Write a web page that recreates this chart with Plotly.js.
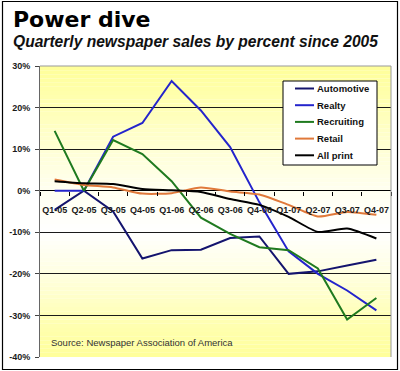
<!DOCTYPE html>
<html>
<head>
<meta charset="utf-8">
<script src="https://cdn.plot.ly/plotly-3.0.1.min.js"></script>
<style>
html,body{margin:0;padding:0;background:#fff;}
#chart{width:400px;height:371px;}
</style>
</head>
<body>
<div id="chart"></div>
<script>
var quarters = ["Q1-05","Q2-05","Q3-05","Q4-05","Q1-06","Q2-06","Q3-06","Q4-06","Q1-07","Q2-07","Q3-07","Q4-07"];
var automotive = [-4.6, 0, -5, -16.3, -14.3, -14.2, -11.4, -11, -20, -19.4, -18, -16.6];
var realty     = [0, 0, 13, 16.3, 26.4, 19.3, 10.5, -2.8, -14.6, -20, -24, -28.8];
var recruiting = [14.4, 0, 12.2, 8.8, 2.3, -6.5, -10.4, -13.6, -14.3, -18.7, -31, -25.8];
var retail     = [2.7, 1.4, 0.8, -0.7, -0.6, 0.8, -0.2, -0.9, -3.4, -6.2, -5.1, -5.8];
var allPrint   = [2.3, 1.8, 1.6, 0.4, 0.1, -0.3, -2.0, -3.4, -6.3, -9.9, -9.1, -11.5];
var yTicks = [-40, -30, -20, -10, 0, 10, 20, 30];

var seriesNames = ["Automotive","Realty","Recruiting","Retail","All print"];
var seriesData = [automotive, realty, recruiting, retail, allPrint];
var seriesColors = ["#14146e","#2424cc","#1f7a1f","#e0793a","#000000"];
var seriesShape = ["linear","linear","linear","spline","spline"];

var traces = seriesNames.map(function(n, i){
  return {
    type: "scatter", mode: "lines", name: n,
    x: quarters, y: seriesData[i],
    line: {color: seriesColors[i], width: 2, shape: seriesShape[i], smoothing: 0.6},
    hoverinfo: "skip", showlegend: false
  };
});

// pixel helpers (plot area: x 40..391, y 66..357)
var L = 40, R = 391, T = 66, B = 357;
function px(x){ return (x - L) / (R - L); }
function py(y){ return (B - y) / (B - T); }

// background gradient stops
var stops = [[30,[255,255,153]],[20,[255,255,181]],[10,[255,255,213]],[0,[255,255,240]],[-10,[255,255,255]],[-20,[255,255,224]],[-30,[255,255,184]],[-40,[255,255,153]]];
function colAt(v){
  for (var i=0;i<stops.length-1;i++){
    var a=stops[i], b=stops[i+1];
    if (v<=a[0] && v>=b[0]){
      var t=(a[0]-v)/(a[0]-b[0]);
      var c=a[1].map(function(k,j){return Math.round(k+(b[1][j]-k)*t);});
      return "rgb("+c.join(",")+")";
    }
  }
  return "rgb(255,255,255)";
}
var shapes = [];
var N = 70;
for (var i=0;i<N;i++){
  var y1 = 30 - i*70/N, y0 = 30 - (i+1)*70/N;
  shapes.push({type:"rect", xref:"paper", yref:"y", x0:0, x1:1, y0:y0, y1:y1,
    fillcolor: colAt((y0+y1)/2), line:{width:0}, layer:"below"});
}
// plot border top/right
shapes.push({type:"line", xref:"paper", yref:"paper", x0:0, x1:1, y0:1, y1:1, line:{color:"#999", width:1}});
shapes.push({type:"line", xref:"paper", yref:"paper", x0:1, x1:1, y0:0, y1:1, line:{color:"#999", width:1}});
// outer frame
shapes.push({type:"rect", xref:"paper", yref:"paper", x0:px(2.5), x1:px(397.5), y0:py(369.5), y1:py(1.5),
  line:{color:"#000", width:1.2}, fillcolor:"rgba(0,0,0,0)", layer:"above"});

// custom legend box
var annotations = [];
shapes.push({type:"rect", xref:"paper", yref:"paper", x0:px(283), x1:px(377), y0:py(165), y1:py(81),
  line:{color:"#000", width:1}, fillcolor:"#ffffff", layer:"above"});
seriesNames.forEach(function(n, i){
  var yy = 88.5 + i*16.7;
  shapes.push({type:"line", xref:"paper", yref:"paper", x0:px(295), x1:px(314), y0:py(yy), y1:py(yy),
    line:{color: seriesColors[i], width: 2}, layer:"above"});
  annotations.push({text: n, xref:"paper", yref:"paper", x: px(315), y: py(yy), xanchor:"left", yanchor:"middle",
    showarrow:false, font:{family:"Liberation Sans, Arial, sans-serif", size: 9.5, color:"#111", weight:"bold"}});
});

annotations.push(
  {text: "Power dive", xref: "paper", yref: "paper", x: px(11), y: py(5), xanchor: "left", yanchor: "top",
    showarrow: false, font: {family: "DejaVu Sans, sans-serif", size: 22, color: "#000", weight: "bold"}},
  {text: "<i>Quarterly newspaper sales by percent since 2005</i>", xref: "paper", yref: "paper", x: px(11), y: py(31),
    xanchor: "left", yanchor: "top", showarrow: false,
    font: {family: "Liberation Sans, Arial, sans-serif", size: 15.6, color: "#111", weight: "bold"}},
  {text: "Source: Newspaper Association of America", xref: "paper", yref: "paper", x: px(49), y: py(342),
    xanchor: "left", yanchor: "middle", showarrow: false,
    font: {family: "Liberation Sans, Arial, sans-serif", size: 9.5, color: "#333"}}
);

var layout = {
  width: 400, height: 371,
  margin: {l: L, r: 400 - R, t: T, b: 371 - B, pad: 0},
  paper_bgcolor: "#ffffff",
  plot_bgcolor: "#ffffff",
  showlegend: false,
  xaxis: {
    type: "category", range: [-0.5, 11.5],
    anchor: "free", position: 40/70,
    showgrid: false, showline: false, zeroline: false,
    ticks: "outside", tickson: "boundaries", ticklen: 4, tickcolor: "#000", tickwidth: 1,
    tickangle: 0, ticklabelstandoff: 12,
    tickfont: {family: "Liberation Sans, Arial, sans-serif", size: 9, color: "#1a1a1a", weight: "bold"},
    fixedrange: true
  },
  yaxis: {
    range: [-40, 30], tickvals: yTicks, ticktext: yTicks.map(function(v){return v + "%";}),
    showgrid: true, gridcolor: "#1a1a1a", gridwidth: 1,
    zeroline: true, zerolinecolor: "#000", zerolinewidth: 1.5,
    showline: true, linecolor: "#666", linewidth: 1, mirror: false,
    ticks: "outside", ticklen: 4, tickcolor: "#444", ticklabelstandoff: 3,
    tickfont: {family: "Liberation Sans, Arial, sans-serif", size: 9, color: "#1a1a1a", weight: "bold"},
    fixedrange: true
  },
  shapes: shapes,
  annotations: annotations
};

Plotly.newPlot("chart", traces, layout, {displayModeBar: false, staticPlot: true});
</script>
</body>
</html>
